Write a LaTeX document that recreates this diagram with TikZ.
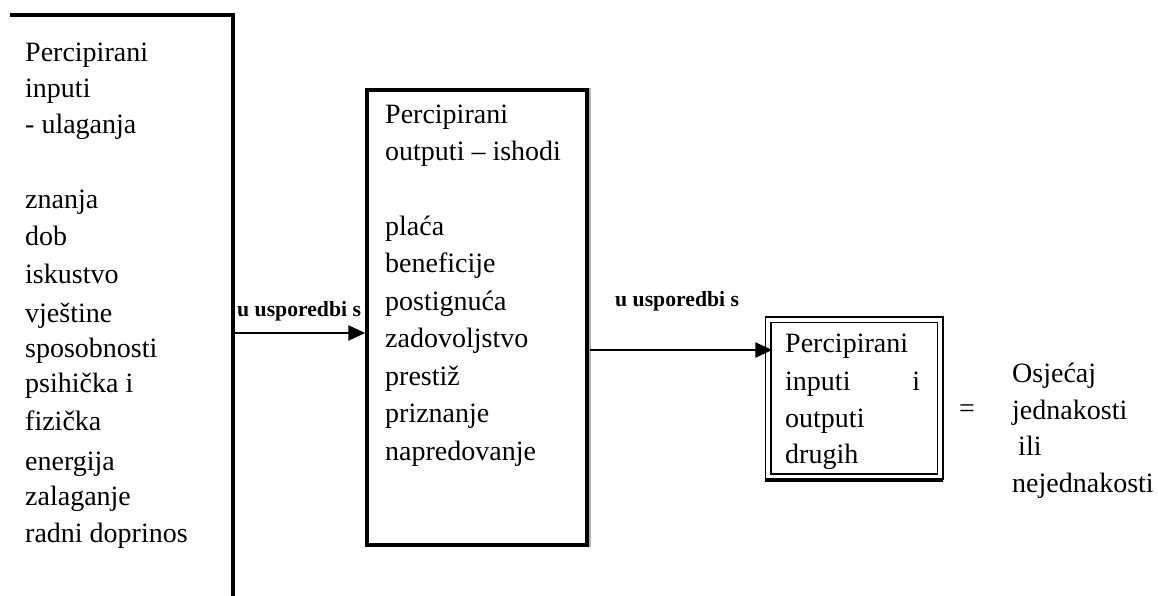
\documentclass[tikz,border=0pt]{standalone}
\usepackage{fontspec}
\setmainfont{Liberation Serif}
\usetikzlibrary{arrows.meta}
\begin{document}
\begin{tikzpicture}[x=1pt,y=-1pt,
  txt/.style={anchor=base west,inner sep=0pt,font=\fontsize{28}{34}\selectfont},
  lbl/.style={anchor=base west,inner sep=0pt,font=\fontsize{21.7}{26}\selectfont\bfseries},
  frame/.style={line width=3.5pt},
  conn/.style={line width=2.5pt,-{Triangle[length=17pt,width=15pt]}}]
\useasboundingbox (0,0) rectangle (1158,595);
% left (open) box
\coordinate (lt) at (10,15);
\coordinate (ltr) at (233,15);
\coordinate (lbr) at (233,597);
\draw[frame] (lt) -- (ltr) -- (lbr);
\foreach \t/\y [count=\i] in {Percipirani/61, inputi/97, - ulaganja/133, znanja/208, dob/245, iskustvo/283, vještine/322, sposobnosti/357, psihička i/392, fizička/430, energija/470, zalaganje/505, radni doprinos/542}
  \node[txt] (in\i) at (25,\y) {\t};
% middle box
\node[draw,frame,minimum width=220pt,minimum height=455pt,inner sep=0pt] (mid) at (477,317.5) {};
\draw[gray!60,line width=2pt] ([xshift=1.2pt]mid.north east) -- ([xshift=1.2pt]mid.south east);
\foreach \t/\y [count=\i] in {Percipirani/123, outputi – ishodi/160, plaća/235, beneficije/272, postignuća/310, zadovoljstvo/347, prestiž/385, priznanje/422, napredovanje/460}
  \node[txt] (out\i) at (385,\y) {\t};
% third box
\node[draw,line width=1.5pt,double,double distance=4pt,minimum width=172pt,minimum height=157pt,inner sep=0pt] (oth) at (854,398) {};
\coordinate (obl) at (765,480);
\coordinate (obr) at (943,480);
\draw[line width=3.5pt] (obl) -- (obr);
\node[txt] (o1) at (785,352) {Percipirani};
\node[txt] (o2) at (785,390) {\makebox[135pt][l]{inputi\hfill i}};
\node[txt] (o3) at (785,427) {outputi};
\node[txt] (o4) at (785,463) {drugih};
% connectors
\coordinate (a1s) at (233,333);
\draw[conn] (a1s) -- (a1s -| mid.west);
\node[lbl] (l1) at (237,316) {u usporedbi s};
\coordinate (a2s) at (590,350);
\draw[conn] (a2s) -- ([xshift=5pt]a2s -| oth.west);
\node[lbl] (l2) at (615,306) {u usporedbi s};
% result
\node[inner sep=0pt,font=\fontsize{28}{34}\selectfont] (eq) at (967,411) {=};
\node[txt] (r1) at (1012,382) {Osjećaj};
\node[txt] (r2) at (1012,419) {jednakosti};
\node[txt] (r3) at (1018,455) {ili};
\node[txt] (r4) at (1012,492) {nejednakosti};
\end{tikzpicture}
\end{document}
